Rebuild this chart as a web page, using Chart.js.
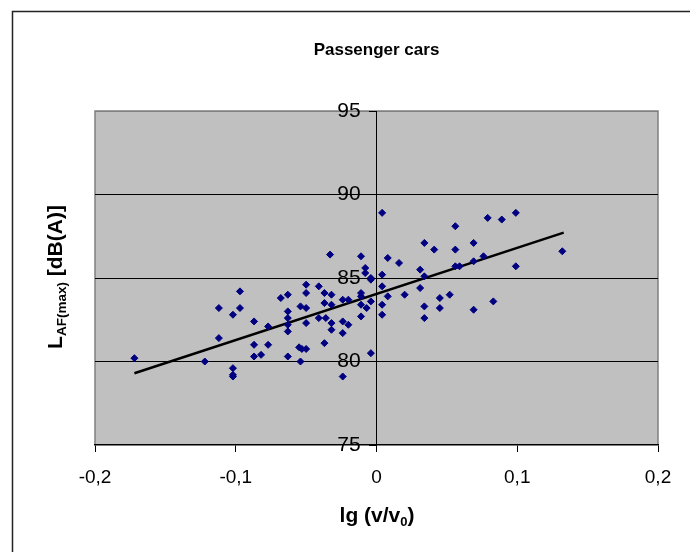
<!DOCTYPE html>
<html>
<head>
<meta charset="utf-8">
<script src="https://cdn.jsdelivr.net/npm/chart.js@4"></script>
<style>
  body { margin: 0; background: #fff; }
  #wrap { width: 690px; height: 552px; }
</style>
</head>
<body>
<div id="wrap"><canvas id="scatter" width="690" height="552"></canvas></div>
<script>
// measured points, lg(v/v0) against L_AF(max)
var lgSpeed = [
  -0.172, -0.122, -0.112, -0.112, -0.102, -0.102, -0.102, -0.102, -0.097, -0.097,
  -0.087, -0.087, -0.087, -0.082, -0.077, -0.077, -0.068, -0.063, -0.063, -0.063,
  -0.063, -0.063, -0.063, -0.054, -0.055, -0.053, -0.050, -0.054, -0.050, -0.050,
  -0.050, -0.050, -0.041, -0.041, -0.037, -0.037, -0.036, -0.037, -0.033, -0.032,
  -0.032, -0.032, -0.032, -0.024, -0.024, -0.024, -0.024, -0.020, -0.020, -0.011,
  -0.011, -0.011, -0.011, -0.011, -0.008, -0.008, -0.007, -0.004, -0.004, -0.004,
  -0.004, 0.004, 0.004, 0.004, 0.004, 0.004, 0.008, 0.008, 0.016, 0.020,
  0.031, 0.031, 0.034, 0.034, 0.034, 0.034, 0.041, 0.045, 0.045, 0.052,
  0.056, 0.056, 0.056, 0.059, 0.069, 0.069, 0.069, 0.076, 0.079, 0.083,
  0.089, 0.099, 0.099, 0.132
];
var levelDb = [
  80.2, 80.0, 83.2, 81.4, 82.8, 79.6, 79.2, 79.1, 84.2, 83.2,
  82.4, 81.0, 80.3, 80.4, 82.1, 81.0, 83.8, 84.0, 83.0, 82.6,
  82.2, 81.8, 80.3, 83.3, 80.85, 80.75, 80.75, 80.0, 84.6, 84.1,
  83.2, 82.3, 84.5, 82.6, 84.1, 83.5, 82.6, 81.1, 86.4, 84.0,
  83.4, 82.3, 81.9, 83.7, 82.4, 81.7, 79.1, 83.7, 82.2, 86.3,
  84.1, 83.9, 83.4, 82.7, 85.6, 85.3, 83.2, 85.0, 84.9, 83.6,
  80.5, 88.9, 85.2, 84.5, 83.4, 82.8, 86.2, 83.9, 85.9, 84.0,
  85.5, 84.4, 87.1, 85.1, 83.3, 82.6, 86.7, 83.8, 83.2, 84.0,
  88.1, 86.7, 85.7, 85.7, 87.1, 86.0, 83.1, 86.3, 88.6, 83.6,
  88.5, 88.9, 85.7, 86.6
];

// linear trend line end points
var trendX = [-0.172, 0.133];
var trendY = [79.3, 87.72];

var xTickLabels = ["-0,2", "-0,1", "0", "0,1", "0,2"];
var yTickLabels = ["75", "80", "85", "90", "95"];

var points = lgSpeed.map(function (v, i) { return { x: v, y: levelDb[i] }; });
var trend = trendX.map(function (v, i) { return { x: v, y: trendY[i] }; });

var FONT = "'Liberation Sans', Arial, sans-serif";

// text with a subscript part, centred on (0,0), baseline at by
function drawParts(ctx, parts, by) {
  var total = 0;
  parts.forEach(function (p) {
    ctx.font = "bold " + p.size + "px " + FONT;
    p.w = ctx.measureText(p.t).width;
    total += p.w;
  });
  var x = -total / 2;
  ctx.textAlign = "left";
  ctx.textBaseline = "alphabetic";
  ctx.fillStyle = "#000";
  parts.forEach(function (p) {
    ctx.font = "bold " + p.size + "px " + FONT;
    ctx.fillText(p.t, x, by + p.dy);
    x += p.w;
  });
}

var frame = {
  id: "frame",
  beforeDraw: function (chart) {
    var ctx = chart.ctx, a = chart.chartArea;
    ctx.save();
    // outer chart border (only top and left lie inside the picture)
    ctx.strokeStyle = "#222";
    ctx.lineWidth = 1.5;
    ctx.beginPath();
    ctx.moveTo(12.5, 552);
    ctx.lineTo(12.5, 11.5);
    ctx.lineTo(690, 11.5);
    ctx.stroke();
    // plot area
    ctx.fillStyle = "#c0c0c0";
    ctx.fillRect(a.left, a.top, a.right - a.left, a.bottom - a.top);
    ctx.strokeStyle = "#808080";
    ctx.lineWidth = 1.5;
    ctx.beginPath();
    ctx.moveTo(a.left, a.bottom);
    ctx.lineTo(a.left, a.top);
    ctx.lineTo(a.right, a.top);
    ctx.lineTo(a.right, a.bottom);
    ctx.stroke();
    ctx.restore();
  },
  afterDraw: function (chart) {
    var ctx = chart.ctx;
    ctx.save();
    ctx.translate(377, 0);
    drawParts(ctx, [
      { t: "lg (v/v", size: 21, dy: 0 },
      { t: "0", size: 13, dy: 4 },
      { t: ")", size: 21, dy: 0 }
    ], 521.5);
    ctx.restore();

    ctx.save();
    ctx.translate(54, 277);
    ctx.rotate(-Math.PI / 2);
    drawParts(ctx, [
      { t: "L", size: 21, dy: 0 },
      { t: "AF(max)", size: 13.5, dy: 4 },
      { t: " [dB(A)]", size: 21, dy: 0 }
    ], 7.5);
    ctx.restore();
  }
};

var ctx = document.getElementById("scatter").getContext("2d");
var chart = new Chart(ctx, {
  type: "scatter",
  data: {
    datasets: [
      {
        label: "measurements",
        data: points,
        pointStyle: "rectRot",
        pointRadius: 3.5,
        pointBackgroundColor: "#000080",
        pointBorderColor: "#000080",
        pointBorderWidth: 1
      },
      {
        label: "trend",
        data: trend,
        showLine: true,
        pointRadius: 0,
        borderColor: "#000",
        borderWidth: 2.5
      }
    ]
  },
  options: {
    responsive: false,
    animation: false,
    layout: { padding: { left: 95, right: 32, top: 0, bottom: 48 } },
    plugins: {
      legend: { display: false },
      tooltip: { enabled: false },
      title: {
        display: true,
        text: "Passenger cars",
        color: "#000",
        font: { family: FONT, size: 17, weight: "bold" },
        padding: { top: 39.8, bottom: 50.8 }
      }
    },
    scales: {
      x: {
        type: "linear",
        position: "bottom",
        min: -0.2,
        max: 0.2,
        ticks: {
          stepSize: 0.1,
          color: "#000",
          padding: 14.6,
          font: { family: FONT, size: 19 },
          callback: function (value, index) { return xTickLabels[index]; }
        },
        grid: { drawOnChartArea: false, color: "#000", tickLength: 7, tickWidth: 1 },
        border: { color: "#000", width: 1.5 }
      },
      y: {
        type: "linear",
        position: { x: 0 },
        min: 75,
        max: 95,
        ticks: {
          stepSize: 5,
          color: "#000",
          font: { family: FONT, size: 21 },
          // labels sit right-aligned on the axis line, so pad them with spaces
          callback: function (value, index) { return yTickLabels[index] + "  \u2009"; }
        },
        grid: {
          color: function (c) {
            if (!c.tick) return "#000";
            if (c.tick.value === 95) return "#808080";
            if (c.tick.value === 75) return "rgba(0,0,0,0)";
            return "#000";
          },
          tickColor: "#000",
          tickLength: 7,
          lineWidth: 1
        },
        border: { color: "#000", width: 1 }
      }
    }
  },
  plugins: [frame]
});
</script>
</body>
</html>
